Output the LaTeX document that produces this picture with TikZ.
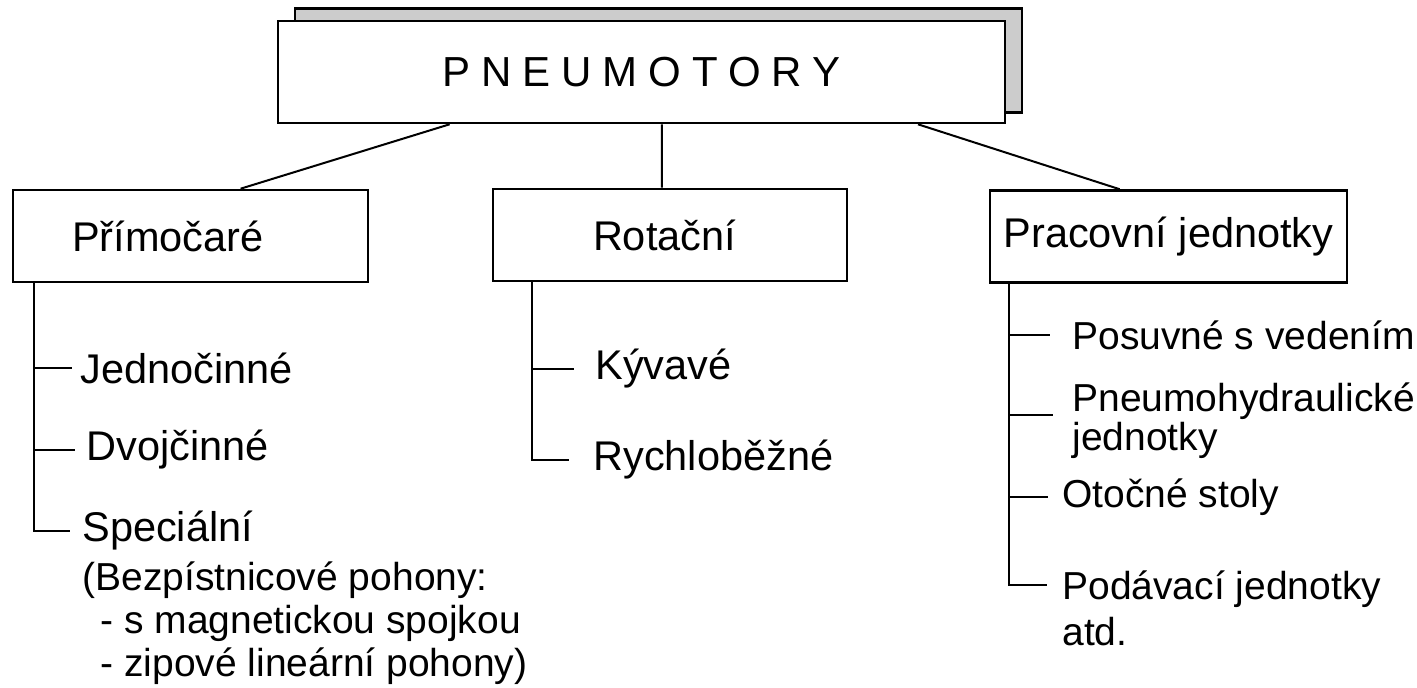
\documentclass[tikz,border=0pt]{standalone}
\usepackage{fontspec}
\setmainfont{Liberation Sans}
\newfontfamily\spacedfont[LetterSpace=26]{Liberation Sans}
\usetikzlibrary{positioning, calc}

\begin{document}
\begin{tikzpicture}[
        x=0.5pt, y=-0.5pt,
        backbox/.style={draw, line width=1.3pt, fill=black!20, minimum width=363.5pt, minimum height=52pt, inner sep=0pt},
        headbox/.style={draw, line width=1.3pt, fill=white, minimum width=363.5pt, minimum height=51pt, inner sep=0pt,
            font=\spacedfont\fontsize{21}{24}\selectfont},
        box/.style={draw, line width=1.3pt, fill=white, minimum height=46pt, inner sep=0pt, font=\fontsize{20.75}{24}\selectfont},
        leaf/.style={anchor=west, inner ysep=0pt, font=\fontsize{20.75}{24}\selectfont},
        subleaf/.style={anchor=west, inner ysep=0pt, align=left, font=\fontsize{19.5}{19.5}\selectfont},
        link/.style={line width=1pt},
        tree/.style={line width=0.9pt}
    ]
        \useasboundingbox (0,0) rectangle (1417,687);

        \node[backbox] (pnback) at (658.5,60.5) {};
        \node[headbox] (pn) at (641.5,72) {PNEUMOTORY};

        \node[box, minimum width=177.5pt, text width=118.5pt, align=left, inner xsep=29.5pt] (prim) at (190.5,236) {Přímočaré};
        \node[box, minimum width=177pt, text width=77pt, align=left, inner xsep=50pt] (rot) at (670,235) {Rotační};
        \node[box, minimum width=178.5pt] (prac) at (1168.5,236.5) {Pracovní jednotky};

        \draw[link] ($(pn.south west)!0.237!(pn.south east)$) -- ($(prim.north west)!0.64!(prim.north east)$);
        \draw[link] ($(pn.south west)!0.528!(pn.south east)$) -- ($(rot.north west)!0.477!(rot.north east)$);
        \draw[link] ($(pn.south west)!0.879!(pn.south east)$) -- ($(prac.north west)!0.364!(prac.north east)$);

        \node[leaf, inner xsep=4pt] (jedno) at (72,368) {Jednočinné};
        \node[leaf, inner xsep=5.5pt] (dvoj) at (75,450) {Dvojčinné};
        \node[leaf, inner xsep=6pt] (spec) at (70,531) {Speciální};
        \node[subleaf, anchor=north west, inner sep=0pt, font=\fontsize{19.5}{21.5}\selectfont] (specnote) at (82,561)
            {(Bezpístnicové pohony:\\\hspace*{9pt}- s magnetickou spojkou\\\hspace*{9pt}- zipové lineární pohony)};

        \draw[tree] ([xshift=11pt]prim.south west) |- (jedno.west);
        \draw[tree] ([xshift=11pt]prim.south west) |- (dvoj.west);
        \draw[tree] ([xshift=11pt]prim.south west) |- (spec.west);

        \node[leaf, inner xsep=10.5pt] (kyv) at (574,369) {Kývavé};
        \node[leaf, inner xsep=12pt] (rych) at (569,460) {Rychloběžné};

        \draw[tree] ([xshift=20pt]rot.south west) |- (kyv.west);
        \draw[tree] ([xshift=20pt]rot.south west) |- (rych.west);

        \node[subleaf, inner xsep=11pt] (posuv) at (1050,335) {Posuvné s vedením};
        \node[subleaf, inner xsep=9.5pt] (pneu) at (1053,421) {Pneumohydraulické\\jednotky};
        \node[subleaf, inner xsep=7pt] (otoc) at (1048,497) {Otočné stoly};
        \node[subleaf, inner xsep=7.5pt, font=\fontsize{19.5}{23}\selectfont] (podav) at (1047,608) {Podávací jednotky\\atd.};

        \draw[tree] ([xshift=10pt]prac.south west) |- (posuv.west);
        \draw[tree] ([xshift=10pt]prac.south west) |- ([yshift=3pt]pneu.west);
        \draw[tree] ([xshift=10pt]prac.south west) |- (otoc.west);
        \draw[tree] ([xshift=10pt]prac.south west) |- ([yshift=11.5pt]podav.west);
    \end{tikzpicture}
\end{document}
